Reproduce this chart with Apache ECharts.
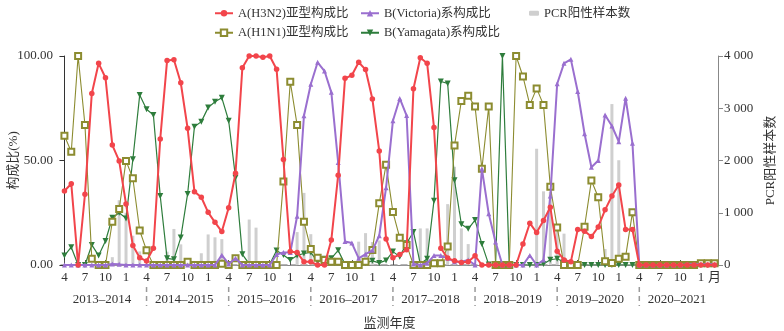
<!DOCTYPE html>
<html><head><meta charset="utf-8">
<script src="https://cdn.jsdelivr.net/npm/echarts@6/dist/echarts.min.js"></script>
<style>html,body{margin:0;padding:0;background:#fff}#c{width:784px;height:331px}</style>
</head><body><div id="c"></div>
<script>
// Monthly categories, April 2013 – March 2021
const months = ['4','5','6','7','8','9','10','11','12','1','2','3',
 '4','5','6','7','8','9','10','11','12','1','2','3',
 '4','5','6','7','8','9','10','11','12','1','2','3',
 '4','5','6','7','8','9','10','11','12','1','2','3',
 '4','5','6','7','8','9','10','11','12','1','2','3',
 '4','5','6','7','8','9','10','11','12','1','2','3',
 '4','5','6','7','8','9','10','11','12','1','2','3',
 '4','5','6','7','8','9','10','11','12','1','2','3'];
const lastTickLabel = '月';
const yearLabels = ['2013–2014','2014–2015','2015–2016','2016–2017','2017–2018','2018–2019','2019–2020','2020–2021'];
const yearDividers = [12,24,36,48,60,72,84];
const yearCenters = [5.5,17.5,29.5,41.5,53.5,65.5,77.5,89.5];

const h3n2 = [35.4,38.9,0,33.8,82.1,96.5,89.6,57.4,49.8,29.2,9.3,3.5,
 1.9,8,60.3,97.8,98.2,87.2,65.4,35.1,32.4,25.2,20.4,16,
 27.4,43.9,94.4,100,100,99.4,100,93.7,50.5,6.5,6,1.5,
 1.5,0,0,12,43,89.3,90.8,97,93.5,79.4,54.6,12.5,
 3.5,5,7.3,84.3,99.2,96.5,65.8,8,3.3,2,1.2,1.5,
 4.4,0,0,0,0,0,0,10,20,15.5,21.3,27.6,
 6.6,2.4,1.6,17,16.2,13.6,18.2,26.4,33,38.3,17,17,
 0,0,0,0,0,0,0,0,0,0,0,0];
const h1n1 = [61.9,54.2,100,67,3,0,0,20.7,26.8,49.8,41.5,16.5,
 7,0,0,0,0,0,1.5,0,0,0,0,0.6,
 0,3.2,0,0,0,0,0,0,40,87.7,67,20.7,
 7.6,3.5,2.4,1.6,1.6,0,0,0,1.6,7.2,29.5,48,
 25.3,13,9.6,0,0,0,0.8,0.8,8.8,57.2,78.5,81,
 75.8,46,75.8,0,0,0,100,90.2,76.6,84.5,76.6,37.5,
 18,0,0,0,18.3,40.4,32.4,1.8,1,3,4,25.2,
 0,0,0,0,0,0,0,0,0,0.8,0.8,0.8];
const victoria = [0,0,0,0,0,0,0,0.5,0.3,0,0,0,
 0,0,0,0,0,0,0,0,0,0,0,4.7,
 0.5,3.2,0,0,0,0,0,5,6,6,23.3,71.4,
 86.5,97,92.8,82.6,49,11.2,10.5,3.2,5.2,7,14,37,
 69,79.7,71.5,0.5,0,0.8,4.5,4.5,3.2,1.6,1.6,2.4,
 0,46,24.5,11,0,0,0,0,4.6,0,2.4,33,
 86.7,96.5,98.4,83,62.8,46.8,50,71.8,66.5,59,79.8,58.2,
 0,0,0,0,0,0,0,0.3,0.3,0.3,0.3,0.3];
const yamagata = [4.5,8.5,0,0,9.6,4.5,11.5,22.6,25,22.3,50.6,81.3,
 74.5,71.8,33,3.2,2.7,13.1,34,66.2,68.6,75.3,78.1,80,
 69,41.8,5.1,0.5,0.5,0.5,0.3,6.9,4.8,2.4,4.6,5.5,
 6,1.5,3,3.2,7,0.3,0.3,0.3,1,2,1,2.2,
 6.4,4,10.4,15.8,0.5,3,30.8,87.8,86.9,40.5,19.5,17.3,
 21.5,10,0.2,0.5,100,0,0,0,0,0,0.5,2.5,
 3,1.5,0.5,0,0,0,0,0,0,0,0,0,
 0,0,0,0,0,0,0,0,0,0,0,0];
const pcr = [0,0,0,0,0,0,0,150,1240,1000,560,260,
 0,0,0,255,690,395,0,0,225,585,530,495,
 0,0,0,870,715,0,0,0,0,0,630,1380,
 590,0,0,0,0,0,0,447,610,440,470,0,
 0,0,0,0,700,700,0,0,1165,1880,700,400,
 0,0,0,0,0,0,0,0,0,2225,1410,1400,
 670,600,0,0,0,0,0,305,3080,2005,0,0,
 0,0,0,0,0,0,0,0,0,0,0,0];

const FONT = "'Liberation Serif','Noto Sans CJK SC',serif";
const TXT = {fontFamily: FONT, fontSize: 13, color: '#333'};
const LTXT = {fontFamily: FONT, fontSize: 12.5, color: '#333'};
const showTick = i => i % 3 === 0 || i === months.length - 1;
const BRACKET = '#9a9a9a';

const chart = echarts.init(document.getElementById('c'));
chart.setOption({
  animation: false,
  grid: {left: 61, right: 66, top: 56, bottom: 66, outerBoundsMode: 'none', containLabel: false},
  legend: [
    {orient: 'vertical', left: 209, top: 2, itemGap: 7, itemWidth: 18, itemHeight: 8,
     data: ['A(H3N2)亚型构成比', 'A(H1N1)亚型构成比'], textStyle: LTXT},
    {orient: 'vertical', left: 355, top: 2, itemGap: 7, itemWidth: 18, itemHeight: 8,
     data: ['B(Victoria)系构成比', 'B(Yamagata)系构成比'], textStyle: LTXT},
    {orient: 'vertical', left: 524, top: 2, itemGap: 7, itemWidth: 10, itemHeight: 5,
     data: ['PCR阳性样本数'], textStyle: LTXT}
  ],
  xAxis: [
    {type: 'category', data: months, boundaryGap: true,
     axisLine: {lineStyle: {color: '#888', width: 1}},
     axisTick: {show: true, inside: true, length: 5, alignWithLabel: true,
       interval: (i) => showTick(i), lineStyle: {color: '#555'}},
     axisLabel: Object.assign({interval: (i) => showTick(i), margin: 6,
       formatter: (v, i) => i === months.length - 1 ? lastTickLabel : v}, TXT),
     splitLine: {show: false}},
    {type: 'value', min: -0.5, max: 95.5, position: 'bottom', offset: 22,
     name: '监测年度', nameLocation: 'middle', nameGap: 30, nameTextStyle: TXT,
     axisLine: {show: true, lineStyle: {color: BRACKET, width: 1.5, type: [6, 4]}},
     axisTick: {show: false},
     axisLabel: Object.assign({customValues: yearCenters, margin: 6,
       formatter: (v) => yearLabels[Math.floor(v / 12)]}, TXT),
     splitLine: {show: false}}
  ],
  yAxis: [
    {type: 'value', min: 0, max: 100, interval: 50, position: 'left',
     name: '构成比(%)', nameLocation: 'middle', nameGap: 41, nameRotate: 90, nameMoveOverlap: false,
     nameTextStyle: TXT,
     axisLine: {show: true, lineStyle: {color: '#333'}},
     axisTick: {show: true, length: 5, lineStyle: {color: '#333'}},
     axisLabel: Object.assign({formatter: v => v.toFixed(2), margin: 8}, TXT),
     splitLine: {show: false}},
    {type: 'value', min: 0, max: 4000, interval: 1000, position: 'right',
     name: 'PCR阳性样本数', nameLocation: 'middle', nameGap: 46, nameRotate: 90, nameMoveOverlap: false,
     nameTextStyle: TXT,
     axisLine: {show: true, lineStyle: {color: '#888'}},
     axisTick: {show: true, length: 5, lineStyle: {color: '#888'}},
     axisLabel: Object.assign({formatter: v => v >= 1000 ? String(v).replace(/(\d)(\d{3})$/, '$1 $2') : String(v), margin: 6}, TXT),
     splitLine: {show: false}}
  ],
  series: [
    {name: 'PCR阳性样本数', type: 'bar', yAxisIndex: 1, data: pcr, barWidth: 3,
     itemStyle: {color: '#cfcfcf'}, z: 1},
    {name: 'B(Yamagata)系构成比', type: 'line', data: yamagata, symbol: 'triangle', symbolRotate: 180,
     symbolSize: 6, showAllSymbol: true, color: '#2e7d3c', lineStyle: {width: 1.2}, itemStyle: {color: '#2e7d3c'}, z: 2},
    {name: 'A(H1N1)亚型构成比', type: 'line', data: h1n1, symbol: 'emptyRect',
     symbolSize: 6, showAllSymbol: true, color: '#8c8c30', lineStyle: {width: 1.1}, itemStyle: {color: '#8c8c30', borderWidth: 1}, z: 3},
    {name: 'B(Victoria)系构成比', type: 'line', data: victoria, symbol: 'triangle',
     symbolSize: 5, showAllSymbol: true, color: '#9a6fcf', lineStyle: {width: 2}, itemStyle: {color: '#9a6fcf'}, z: 4},
    {name: 'A(H3N2)亚型构成比', type: 'line', data: h3n2, symbol: 'circle',
     symbolSize: 5.5, showAllSymbol: true, color: '#f2454b', lineStyle: {width: 2}, itemStyle: {color: '#f2454b'}, z: 5}
  ]
});

// Year-group dividers, positioned through the axis scales
const baseY = chart.convertToPixel({yAxisIndex: 0}, 0) + 22;
chart.setOption({
  graphic: yearDividers.map(d => {
    const x = chart.convertToPixel({xAxisIndex: 0}, d);
    return {type: 'line', silent: true,
      shape: {x1: x, y1: baseY, x2: x, y2: baseY + 19},
      style: {stroke: BRACKET, lineWidth: 1.5, lineDash: [5, 4]}};
  })
});
</script></body></html>
